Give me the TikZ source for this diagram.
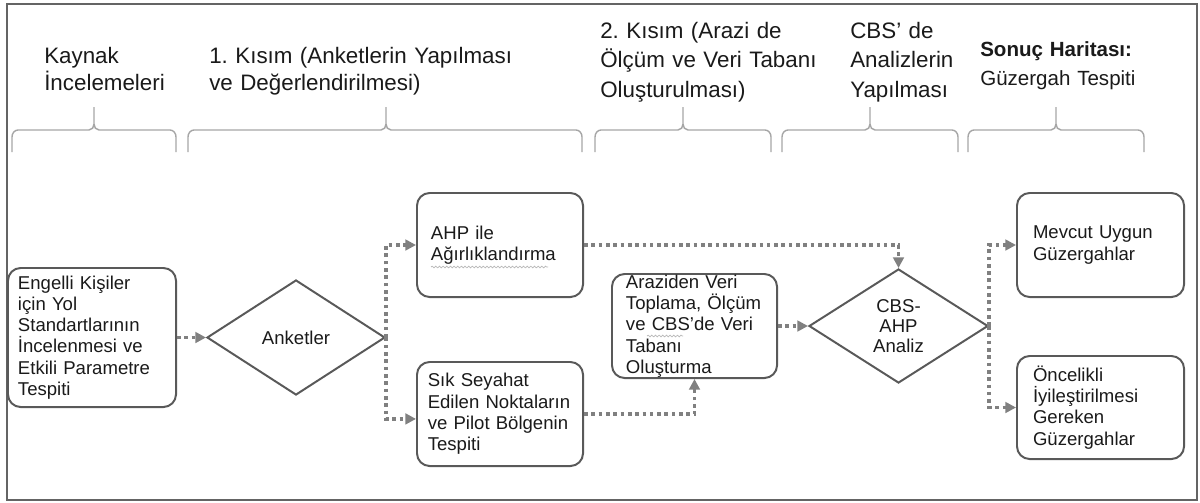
\documentclass[tikz,border=0pt]{standalone}
\usepackage{fontspec}
\setmainfont{Liberation Sans}
\frenchspacing
\usetikzlibrary{arrows.meta,shapes.geometric,decorations.pathmorphing}
\definecolor{framegray}{HTML}{646464}
\definecolor{boxgray}{HTML}{595959}
\definecolor{linegray}{HTML}{808080}
\definecolor{bracegray}{HTML}{A6A6A6}
\definecolor{txt}{HTML}{1A1A1A}
\newcommand\mybrace[3]{%
  \draw[brc] (#1,152) -- (#1,137) to[out=90,in=180] ({#1+6},130) -- ({#2-5},130)
    to[out=0,in=-90] (#2,124) -- (#2,107);
  \draw[brc] (#2,124) to[out=-90,in=180] ({#2+5},130) -- ({#3-6},130)
    to[out=0,in=90] (#3,137) -- (#3,152);}
\begin{document}
\begin{tikzpicture}[x=0.025cm,y=-0.025cm,
  hdr/.style={anchor=base west, inner sep=0pt, align=left, text width=8cm,
    font=\fontsize{15.9}{19.9}\selectfont, text=txt},
  brc/.style={draw=bracegray, line width=1pt},
  box/.style={draw=boxgray, line width=1.4pt, rounded corners=9pt, align=left,
    inner ysep=0pt, font=\fontsize{13.2}{15.1}\selectfont, text=txt},
  dia/.style={diamond, draw=boxgray, line width=1.4pt, inner sep=0pt, align=center,
    font=\fontsize{13.2}{14.3}\selectfont, text=txt},
  conn/.style={draw=linegray, line width=2.8pt, dash pattern=on 2.6pt off 2.6pt,
    -{Triangle[length=7.5pt,width=7.5pt]}},
  squig/.style={draw=gray!55, line width=0.5pt, decorate,
    decoration={snake, amplitude=0.6pt, segment length=2.6pt}}]
\useasboundingbox (0,0) rectangle (1200,502);
\fill[white] (0,0) rectangle (1200,502);
\draw[framegray, line width=1.8pt] (7,4) rectangle (1197,500);

% headers
\node[hdr] (h1) at (44,63) {Kaynak\\İncelemeleri};
\node[hdr] (h2) at (209,63) {1. Kısım (Anketlerin Yapılması\\ve Değerlendirilmesi)};
\node[hdr, font=\fontsize{15.9}{21}\selectfont] (h3) at (600,38)
  {2. Kısım (Arazi de\\Ölçüm ve Veri Tabanı\\Oluşturulması)};
\node[hdr, font=\fontsize{15.9}{21}\selectfont] (h4) at (850,38)
  {CBS’ de\\Analizlerin\\Yapılması};
\node[hdr, font=\fontsize{14.6}{21.3}\selectfont] (h5) at (980,56)
  {\textbf{Sonuç Haritası:}\\Güzergah Tespiti};

% braces
\mybrace{12}{94}{176}
\mybrace{188}{386}{582}
\mybrace{595}{683}{771}
\mybrace{782}{870}{958}
\mybrace{968}{1056}{1144}

% boxes
\node[box, inner xsep=0.25cm, text width=3.7cm, minimum height=3.475cm] (eng) at (92,337.5)
  {Engelli Kişiler\\için Yol\\Standartlarının\\İncelenmesi ve\\Etkili Parametre\\Tespiti};
\node[dia, minimum width=4.45cm, minimum height=2.875cm] (ank) at (296,337.5) {Anketler};
\node[box, inner xsep=0.35cm, text width=3.45cm, minimum height=2.6cm] (ahp) at (500,245)
  {AHP ile\\Ağırlıklandırma};
\node[box, inner xsep=0.27cm, text width=3.61cm, minimum height=2.6cm] (sik) at (500,414)
  {Sık Seyahat\\Edilen Noktaların\\ve Pilot Bölgenin\\Tespiti};
\node[box, inner xsep=0.35cm, text width=3.425cm, minimum height=2.6cm] (arz) at (694.5,326)
  {Araziden Veri\\Toplama, Ölçüm\\ve CBS’de Veri\\Tabanı\\Oluşturma};
\node[dia, minimum width=4.475cm, minimum height=2.85cm] (cbs) at (898.5,326)
  {CBS-\\AHP\\Analiz};
\node[box, inner xsep=0.4cm, text width=3.375cm, minimum height=2.6cm] (mev) at (1100.5,245)
  {Mevcut Uygun\\Güzergahlar};
\node[box, inner xsep=0.4cm, text width=3.375cm, minimum height=2.575cm] (onc) at (1100.5,407.5)
  {Öncelikli\\İyileştirilmesi\\Gereken\\Güzergahlar};

% spell-check squiggles
\draw[squig] (431,267) -- (548,267);
\draw[squig] (647,336) -- (683,336);

% connectors
\draw[conn] (eng.east) -- (ank.west);
\draw[conn] (ank.east) |- (ahp.west);
\draw[conn] (ank.east) |- ([yshift=-3.5pt]sik.west);
\draw[conn] (ahp.east) -| (cbs.north);
\draw[conn] (sik.east) -| (arz.south);
\draw[conn] (arz.east) -- (cbs.west);
\draw[conn] (cbs.east) |- (mev.west);
\draw[conn] (cbs.east) |- (onc.west);
\end{tikzpicture}
\end{document}
